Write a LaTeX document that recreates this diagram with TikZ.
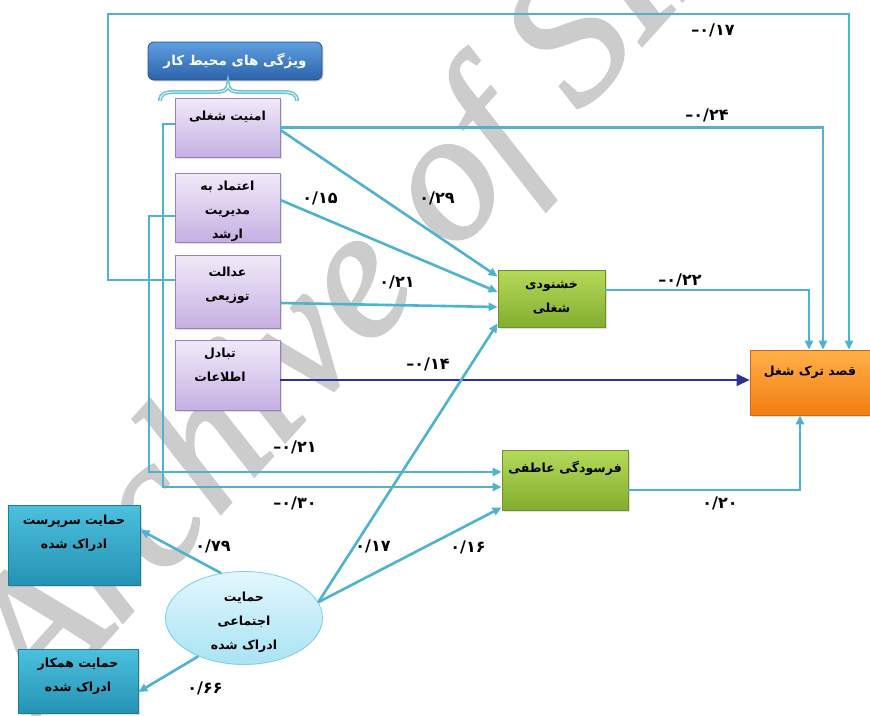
\documentclass[tikz,border=0pt]{standalone}
\usepackage{fontspec}
\setmainfont{DejaVu Sans}
\newfontfamily\arabicfont[Script=Arabic]{DejaVu Sans}
\newfontfamily\wmfont[ItalicFeatures={FakeBold=1.5}]{Liberation Serif}
\TeXXeTstate=1
\usetikzlibrary{arrows.meta,shapes.geometric,shadows}
\newcommand{\prs}[1]{{\arabicfont\beginR #1\endR}}
\newcommand{\neglab}[1]{\textendash{\arabicfont #1}}
\definecolor{lnc}{HTML}{4DB3CE}
\definecolor{navy}{HTML}{2E3192}
\definecolor{purT}{HTML}{F1EAF9}
\definecolor{purB}{HTML}{C6B0E3}
\definecolor{purD}{HTML}{9A80C2}
\definecolor{grT}{HTML}{B5D95A}
\definecolor{grB}{HTML}{84AE30}
\definecolor{grD}{HTML}{6E9228}
\definecolor{orT}{HTML}{FFB04A}
\definecolor{orB}{HTML}{F27E10}
\definecolor{orD}{HTML}{D46A0A}
\definecolor{tlT}{HTML}{4CC0DE}
\definecolor{tlB}{HTML}{2592B4}
\definecolor{tlD}{HTML}{1D7C98}
\definecolor{elT}{HTML}{E2F7FD}
\definecolor{elB}{HTML}{A9E3F4}
\definecolor{elD}{HTML}{7CCDE4}
\definecolor{hdT}{HTML}{5E9EE0}
\definecolor{hdB}{HTML}{2B63AA}
\definecolor{hdD}{HTML}{24548F}
\begin{document}
\begin{tikzpicture}[x=1pt,y=-1pt,
  conn/.style={draw=lnc,line width=2.6pt},
  tip/.style={-{Triangle[length=9pt,width=8pt]}},
  pbox/.style={draw=purD,line width=0.8pt,top color=purT,bottom color=purB,minimum width=105pt,inner sep=0pt,drop shadow={opacity=0.25,shadow xshift=1.5pt,shadow yshift=-1.5pt}},
  gbox/.style={draw=grD,line width=0.8pt,top color=grT,bottom color=grB,inner sep=0pt,drop shadow={opacity=0.25,shadow xshift=1.5pt,shadow yshift=-1.5pt}},
  obox/.style={draw=orD,line width=0.8pt,top color=orT,bottom color=orB,inner sep=0pt,drop shadow={opacity=0.25,shadow xshift=1.5pt,shadow yshift=-1.5pt}},
  tbox/.style={draw=tlD,line width=0.8pt,top color=tlT,bottom color=tlB,inner sep=0pt,drop shadow={opacity=0.25,shadow xshift=1.5pt,shadow yshift=-1.5pt}},
  txt/.style={align=center,font=\bfseries\fontsize{12.5}{24}\selectfont,inner sep=0pt},
  lab/.style={font=\bfseries\fontsize{16}{17}\selectfont,inner sep=0pt},
  wm/.style={font=\wmfont\itshape\fontsize{185}{185}\selectfont,text=black!20,inner sep=0pt}
]
\useasboundingbox (0,0) rectangle (870,715);
\fill[white] (0,0) rectangle (870,715);
% watermark
\node[wm,rotate=48,anchor=base west] (wmk) at (42,712) {Archive of SID};

% header and brace
\node[draw=hdD,line width=0.8pt,rounded corners=6pt,top color=hdT,bottom color=hdB,minimum width=174pt,minimum height=38pt,text=white,font=\bfseries\fontsize{13.5}{14}\selectfont,drop shadow={opacity=0.3,shadow xshift=1.5pt,shadow yshift=-1.5pt}] (hdr) at (235,61) {\prs{ویژگی های محیط کار}};
\draw[draw=lnc!80,line width=1.6pt,double=white,double distance=0.8pt] (160,101) .. controls (160,94) and (165,92) .. (175,92) -- (214,92) .. controls (224,92) and (228,90) .. (228,84) .. controls (228,90) and (232,92) .. (242,92) -- (282,92) .. controls (292,92) and (297,94) .. (297,101);

% purple boxes
\node[pbox,minimum height=59pt] (amn) at (227.5,127.5) {};
\node[pbox,minimum height=69pt] (etm) at (227.5,207.5) {};
\node[pbox,minimum height=73pt] (adl) at (227.5,291.5) {};
\node[pbox,minimum height=70pt] (tab) at (227.5,375) {};
\node[txt] (amnT) at (227.5,117) {\prs{امنیت شغلی}};
\node[txt] (etmT) at (227.5,211) {\prs{اعتماد به}\\\prs{مدیریت}\\\prs{ارشد}};
\node[txt] (adlT) at (227.5,285) {\prs{عدالت}\\\prs{توزیعی}};
\node[txt] (tabT) at (220,365) {\prs{تبادل}\\\prs{اطلاعات}};

% green, orange, teal boxes and ellipse
\node[gbox,minimum width=107pt,minimum height=57pt] (kh) at (551.5,298.5) {};
\node[txt] (khT) at (551.5,298) {\prs{خشنودی}\\\prs{شغلی}};
\node[gbox,minimum width=126pt,minimum height=60pt] (far) at (565,480) {};
\node[txt] (farT) at (565,468) {\prs{فرسودگی عاطفی}};
\node[obox,minimum width=120pt,minimum height=65pt] (gh) at (810,382.5) {};
\node[txt] (ghT) at (810,372) {\prs{قصد ترک شغل}};
\node[tbox,minimum width=132pt,minimum height=80pt] (sarp) at (74,545) {};
\node[txt] (sarpT) at (74,533) {\prs{حمایت سرپرست}\\\prs{ادراک شده}};
\node[tbox,minimum width=120pt,minimum height=64pt] (ham) at (78,681) {};
\node[txt] (hamT) at (78,676) {\prs{حمایت همکار}\\\prs{ادراک شده}};
\node[ellipse,draw=elD,line width=0.8pt,top color=elT,bottom color=elB,minimum width=157pt,minimum height=93pt,inner sep=0pt] (ell) at (244,618) {};
\node[txt] (ellT) at (244,622) {\prs{حمایت}\\\prs{اجتماعی}\\\prs{ادراک شده}};

% connectors
\draw[conn,tip] ([yshift=11.5pt]adl.west) -| (108,14) -| ([xshift=39pt]gh.north);
\draw[conn,tip] (amn.east) -| ([xshift=13pt]gh.north);
\draw[conn,tip] ([yshift=8.5pt]kh.east) -| ([xshift=-1pt]gh.north);
\draw[conn,tip] ([yshift=-10pt]far.east) -| ([xshift=-10pt]gh.south);
\draw[conn,tip] ([yshift=-8.5pt]etm.west) -| (149,472) -- ([yshift=8pt]far.west);
\draw[conn,tip] ([yshift=3.5pt]amn.west) -| (163,487) -- ([yshift=-7pt]far.west);
\draw[conn,tip] ([yshift=-2.5pt]amn.east) -- ([yshift=22pt]kh.west);
\draw[conn,tip] ([yshift=7.5pt]etm.east) -- ([yshift=6.5pt]kh.west);
\draw[conn,tip] ([yshift=-11.5pt]adl.east) -- ([yshift=-8.5pt]kh.west);
\draw[navy,line width=1.3pt,-{Triangle[length=13pt,width=12pt]}] ([yshift=-5pt]tab.east) -- ([yshift=2.5pt]gh.west);
\draw[conn,tip] (ell.12) -- ([yshift=4pt]kh.south west);
\draw[conn,tip] (ell.12) -- ([yshift=3pt]far.south west);
\draw[conn,tip] (ell.117) -- ([yshift=15pt]sarp.east);
\draw[conn,tip] (ell.220) -- ([yshift=-11pt]ham.east);

% labels
\node[lab] (l1) at (713,30) {\neglab{۰/۱۷}};
\node[lab] (l2) at (707,115) {\neglab{۰/۲۴}};
\node[lab] (l3) at (437,198) {{\arabicfont ۰/۲۹}};
\node[lab] (l4) at (320,198) {{\arabicfont ۰/۱۵}};
\node[lab] (l5) at (397,282) {{\arabicfont ۰/۲۱}};
\node[lab] (l6) at (680,280) {\neglab{۰/۲۲}};
\node[lab] (l7) at (428,364) {\neglab{۰/۱۴}};
\node[lab] (l8) at (295,447) {\neglab{۰/۲۱}};
\node[lab] (l9) at (295,503) {\neglab{۰/۳۰}};
\node[lab] (l10) at (720,503) {{\arabicfont ۰/۲۰}};
\node[lab] (l11) at (373,546) {{\arabicfont ۰/۱۷}};
\node[lab] (l12) at (468,547) {{\arabicfont ۰/۱۶}};
\node[lab] (l13) at (213,546) {{\arabicfont ۰/۷۹}};
\node[lab] (l14) at (205,688) {{\arabicfont ۰/۶۶}};
\end{tikzpicture}
\end{document}
